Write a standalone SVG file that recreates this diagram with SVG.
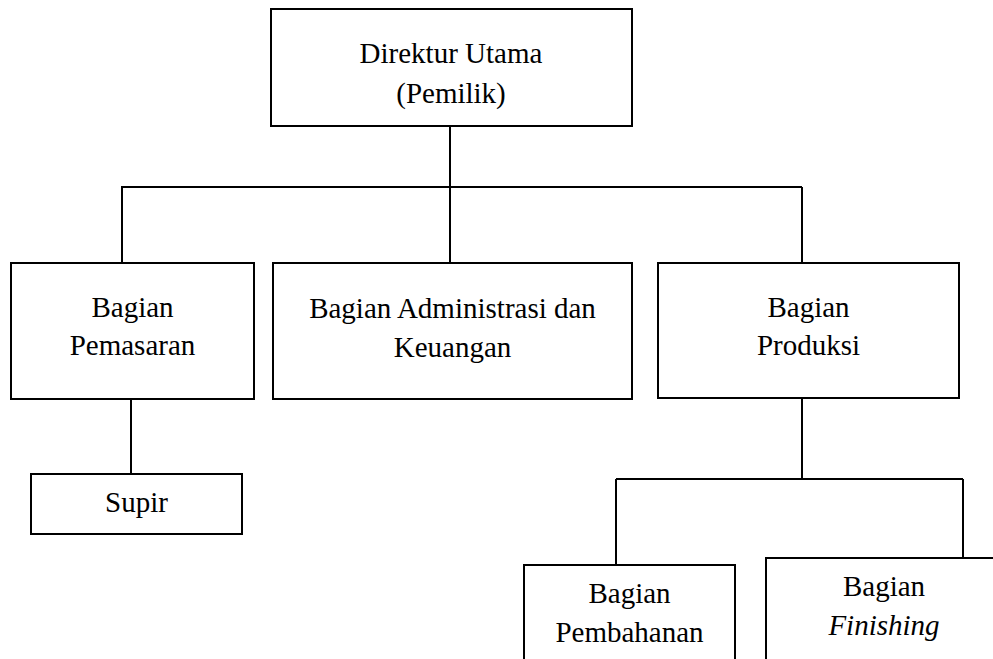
<svg xmlns="http://www.w3.org/2000/svg" width="993" height="659" viewBox="0 0 993 659">
<style>
.box{fill:#fff;stroke:#000;stroke-width:2}
.ln{fill:none;stroke:#000;stroke-width:2}
.t{font-family:'Liberation Serif',serif;font-size:29px;fill:#000;text-anchor:middle}
.it{font-style:italic}
</style>
<rect width="993" height="659" fill="#fff"/>
<g id="connectors">
<path class="ln" d="M450 126V187M121 187H802M122 187V263M450 187V263M802 187V263"/>
<path class="ln" d="M131 399V474"/>
<path class="ln" d="M802 399V479M616 479H963M616 479V565M963 479V558"/>
</g>
<g id="direktur">
<rect class="box" x="271" y="9" width="361" height="117"/>
<text class="t" x="451" y="63">Direktur Utama</text>
<text class="t" x="451" y="103">(Pemilik)</text>
</g>
<g id="pemasaran">
<rect class="box" x="11" y="263" width="243" height="136"/>
<text class="t" x="132.5" y="317">Bagian</text>
<text class="t" x="132.5" y="355">Pemasaran</text>
</g>
<g id="administrasi">
<rect class="box" x="273" y="263" width="359" height="136"/>
<text class="t" x="452.5" y="318">Bagian Administrasi dan</text>
<text class="t" x="452.5" y="357">Keuangan</text>
</g>
<g id="produksi">
<rect class="box" x="658" y="263" width="301" height="135"/>
<text class="t" x="808.5" y="317">Bagian</text>
<text class="t" x="808.5" y="355">Produksi</text>
</g>
<g id="supir">
<rect class="box" x="31" y="474" width="211" height="60"/>
<text class="t" x="136.5" y="512">Supir</text>
</g>
<g id="pembahanan">
<rect class="box" x="524" y="565" width="211" height="120"/>
<text class="t" x="629.5" y="603">Bagian</text>
<text class="t" x="629.5" y="642">Pembahanan</text>
</g>
<g id="finishing">
<rect class="box" x="766" y="558" width="260" height="130"/>
<text class="t" x="884" y="596">Bagian</text>
<text class="t it" x="884" y="635">Finishing</text>
</g>
</svg>
